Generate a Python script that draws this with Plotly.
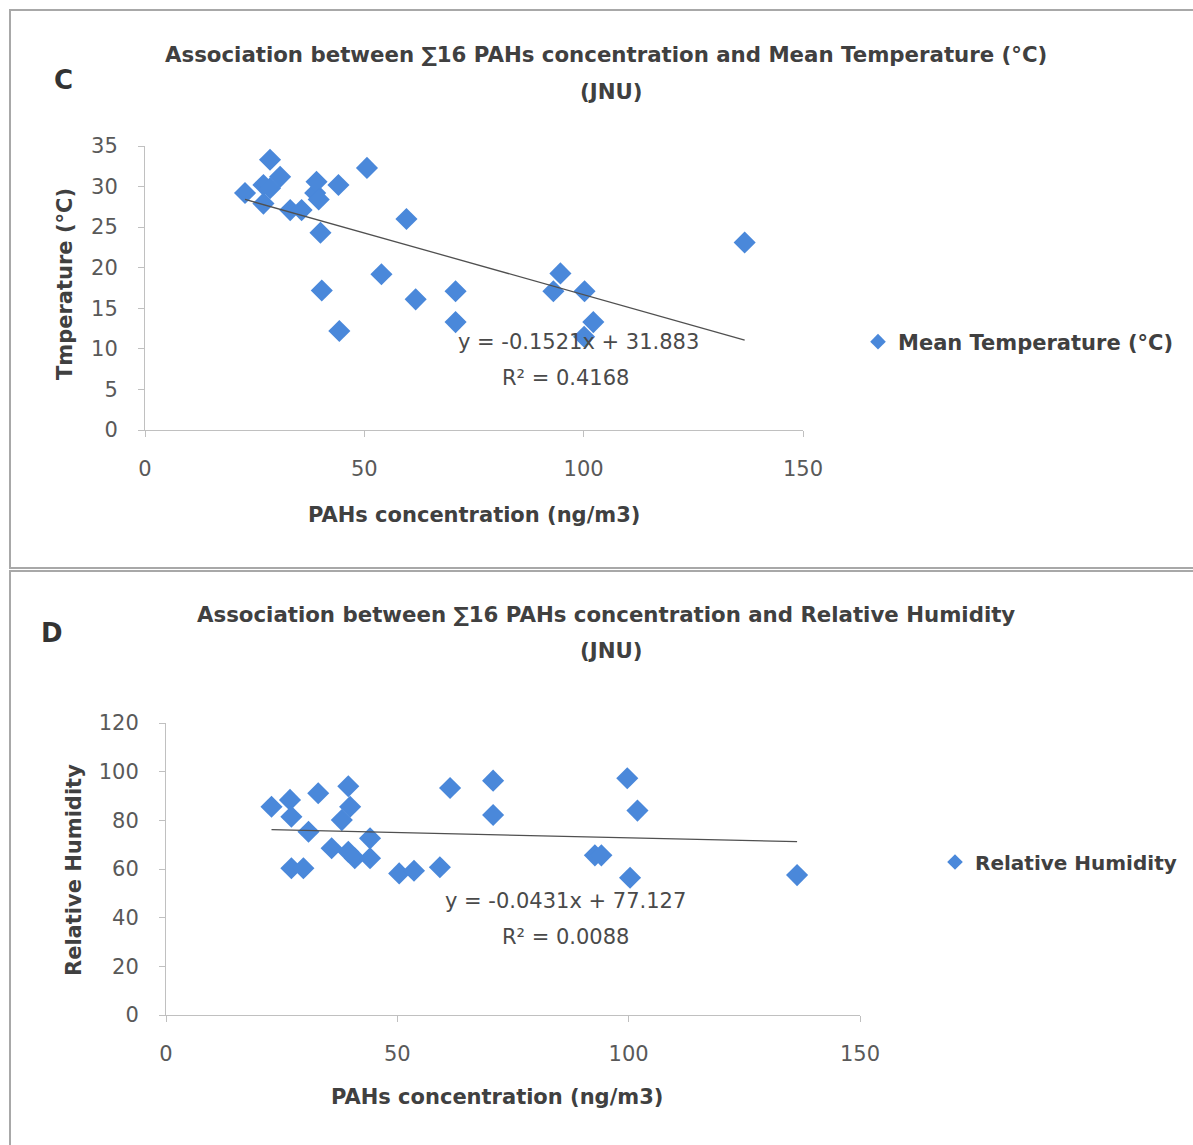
import plotly.graph_objects as go

W, H = 1193, 1145

# ---------------- data ----------------
pahs_temp = [22.8, 27.0, 27.0, 28.5, 28.5, 30.8, 33.1, 35.7, 38.8, 39.1, 39.6, 40.0, 40.3, 44.3,
             44.1, 50.6, 53.9, 59.6, 61.7, 70.8, 70.8, 93.1, 94.7, 100.2, 102.2, 100.1, 136.7]
mean_temp = [29.2, 30.2, 27.9, 33.3, 29.8, 31.2, 27.1, 27.1, 29.2, 30.6, 28.4, 24.3, 17.2, 12.2,
             30.2, 32.3, 19.2, 26.0, 16.1, 17.1, 13.3, 17.1, 19.3, 17.1, 13.3, 11.5, 23.1]

pahs_rh = [22.8, 26.8, 27.1, 32.9, 30.8, 39.4, 39.8, 38.0, 35.8, 39.4, 40.8, 44.1, 44.1, 27.1,
           29.7, 50.4, 53.6, 59.2, 61.4, 70.7, 70.7, 92.7, 94.1, 99.7, 101.9, 100.3, 136.4]
rel_hum = [85.6, 88.4, 81.5, 91.1, 75.3, 94.0, 85.6, 80.1, 68.5, 67.1, 64.4, 72.6, 64.4, 60.3,
           60.3, 58.2, 59.3, 60.7, 93.3, 96.3, 82.2, 65.6, 65.6, 97.3, 84.0, 56.4, 57.5]

temp_slope, temp_intercept, temp_r2 = -0.1521, 31.883, 0.4168
rh_slope, rh_intercept, rh_r2 = -0.0431, 77.127, 0.0088

x_ticks = [0, 50, 100, 150]
temp_ticks = [0, 5, 10, 15, 20, 25, 30, 35]
rh_ticks = [0, 20, 40, 60, 80, 100, 120]

# ---------------- helpers ----------------
def px(x):
    return x / W

def py(y):
    return 1 - y / H

BLUE = "#4a88da"
FONT = "DejaVu Sans"
TICK_COL = "#595959"
TEXT_COL = "#404040"
AX_COL = "#c0c0c0"

fig = go.Figure()

# top panel
fig.add_trace(go.Scatter(
    x=pahs_temp, y=mean_temp, mode="markers", name="Mean Temperature (°C)",
    marker=dict(symbol="diamond", size=17, color=BLUE),
    xaxis="x", yaxis="y", legend="legend"))
tx0, tx1 = min(pahs_temp), max(pahs_temp)
fig.add_trace(go.Scatter(
    x=[tx0, tx1], y=[temp_slope * tx0 + temp_intercept, temp_slope * tx1 + temp_intercept],
    mode="lines", line=dict(color="#505050", width=1.3), showlegend=False,
    xaxis="x", yaxis="y"))

# bottom panel
fig.add_trace(go.Scatter(
    x=pahs_rh, y=rel_hum, mode="markers", name="Relative Humidity",
    marker=dict(symbol="diamond", size=17, color=BLUE),
    xaxis="x2", yaxis="y2", legend="legend2"))
bx0, bx1 = min(pahs_rh), max(pahs_rh)
fig.add_trace(go.Scatter(
    x=[bx0, bx1], y=[rh_slope * bx0 + rh_intercept, rh_slope * bx1 + rh_intercept],
    mode="lines", line=dict(color="#505050", width=1.3), showlegend=False,
    xaxis="x2", yaxis="y2"))

axis_common = dict(showgrid=False, zeroline=False, showline=True, linecolor=AX_COL, linewidth=1,
                   ticks="outside", tickcolor=AX_COL, ticklen=6,
                   tickfont=dict(family=FONT, size=21, color=TICK_COL))

fig.update_layout(
    width=W, height=H,
    margin=dict(l=0, r=0, t=0, b=0, pad=0, autoexpand=False),
    paper_bgcolor="white", plot_bgcolor="white",
    xaxis=dict(domain=[px(145), px(803)], range=[0, 150], tickvals=x_ticks, anchor="y",
               ticklabelstandoff=14, **axis_common),
    yaxis=dict(domain=[py(430), py(146)], range=[0, 35], tickvals=temp_ticks, anchor="x",
               ticklabelstandoff=16, **axis_common),
    xaxis2=dict(domain=[px(166), px(860)], range=[0, 150], tickvals=x_ticks, anchor="y2",
                ticklabelstandoff=14, **axis_common),
    yaxis2=dict(domain=[py(1015), py(723)], range=[0, 120], tickvals=rh_ticks, anchor="x2",
                ticklabelstandoff=16, **axis_common),
    legend=dict(x=px(858), y=py(342), xanchor="left", yanchor="middle", itemsizing="constant",
                font=dict(family=FONT, size=21, color=TEXT_COL, weight="bold"),
                bgcolor="rgba(0,0,0,0)"),
    legend2=dict(x=px(935), y=py(862), xanchor="left", yanchor="middle", itemsizing="constant",
                 font=dict(family=FONT, size=20, color=TEXT_COL, weight="bold"),
                 bgcolor="rgba(0,0,0,0)"),
    showlegend=True,
)

# frames
fig.add_shape(type="rect", xref="paper", yref="paper", x0=px(10), x1=px(1210), y0=py(568), y1=py(10),
              line=dict(color="#a8a8a8", width=2), layer="below")
fig.add_shape(type="rect", xref="paper", yref="paper", x0=px(10), x1=px(1210), y0=py(1160), y1=py(571),
              line=dict(color="#a8a8a8", width=2), layer="below")

def ann(text, x, y, size, bold=False, color=TEXT_COL, angle=0):
    fig.add_annotation(text=text, x=px(x), y=py(y), xref="paper", yref="paper",
                       xanchor="center", yanchor="middle", showarrow=False, textangle=angle,
                       font=dict(family=FONT, size=size, color=color,
                                 weight="bold" if bold else "normal"))

# titles
ann("Association between ∑16 PAHs concentration and Mean Temperature (°C)", 606, 54, 21.3, True)
ann("(JNU)", 611, 92, 21.3, True)
ann("Association between ∑16 PAHs concentration and Relative Humidity", 606, 614, 21.3, True)
ann("(JNU)", 611, 650, 21.3, True)
ann("C", 63, 80, 26, True, "#333333")
ann("D", 52, 633, 26, True, "#333333")

# axis titles
ann("Tmperature (°C)", 65, 284, 21, True, angle=-90)
ann("PAHs concentration (ng/m3)", 474, 515, 21, True)
ann("Relative Humidity", 74, 870, 21, True, angle=-90)
ann("PAHs concentration (ng/m3)", 497, 1097, 21, True)

# trendline equations
ann(f"y = {temp_slope}x + {temp_intercept}", 578, 342, 21, False, "#4a4a4a")
ann(f"R² = {temp_r2}", 565, 378, 21, False, "#4a4a4a")
ann(f"y = {rh_slope}x + {rh_intercept}", 565, 901, 21, False, "#4a4a4a")
ann(f"R² = {rh_r2:.4f}", 565, 937, 21, False, "#4a4a4a")

fig.write_html("out.html")
